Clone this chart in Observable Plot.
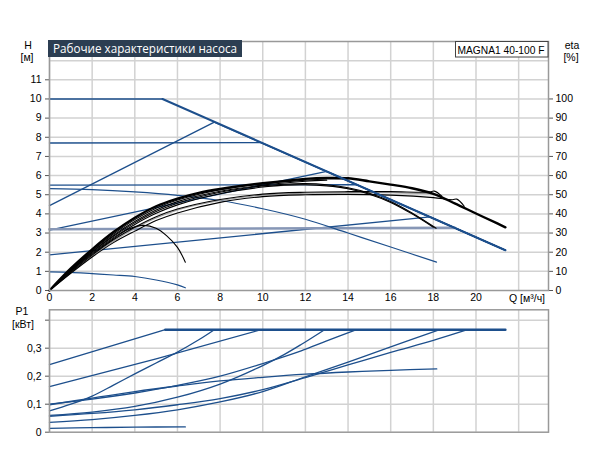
<!DOCTYPE html>
<html>
<head>
<meta charset="utf-8">
<script src="https://cdn.jsdelivr.net/npm/d3@7"></script>
<script src="https://cdn.jsdelivr.net/npm/@observablehq/plot@0.6"></script>
<style>
  html, body { margin:0; padding:0; background:#fff; }
  #wrap { position:relative; width:602px; height:473px; overflow:hidden; font-family:"Liberation Sans", Arial, sans-serif; color:#000; }
  .abs { position:absolute; white-space:nowrap; }
  .lbl { font-size:10.5px; text-align:center; }
</style>
</head>
<body>
<div id="wrap">
  <div id="topChart" class="abs" style="left:0;top:0"></div>
  <div id="botChart" class="abs" style="left:0;top:300px"></div>
  <svg class="abs" style="left:0;top:0" width="602" height="60">
    <rect x="48" y="40" width="194" height="17" fill="#2c3e52"></rect>
    <text x="53" y="53" fill="#fff" font-family="'Open Sans','Noto Sans',sans-serif" font-size="13" textLength="184" lengthAdjust="spacingAndGlyphs">Рабочие характеристики насоса</text>
    <rect x="455.5" y="41.5" width="92.5" height="15.5" fill="#fff" stroke="#444" stroke-width="1"></rect>
    <text x="457.5" y="53.5" fill="#000" font-family="'Liberation Sans',Arial,sans-serif" font-size="11.5" textLength="87" lengthAdjust="spacingAndGlyphs">MAGNA1 40-100 F</text>
  </svg>
  <div class="abs lbl" style="left:18px;top:39px;width:20px">H</div>
  <div class="abs lbl" style="left:17px;top:51px;width:20px">[м]</div>
  <div class="abs lbl" style="left:561px;top:39px;width:22px">eta</div>
  <div class="abs lbl" style="left:560px;top:51px;width:22px">[%]</div>
  <div class="abs lbl" style="left:509px;top:292px;text-align:left">Q [м³/ч]</div>
  <div class="abs lbl" style="left:12px;top:305px;width:20px">P1</div>
  <div class="abs lbl" style="left:9px;top:318px;width:28px">[кВт]</div>
</div>
<script>
// ---------- tick values ----------
const qTickLabels = [0, 2, 4, 6, 8, 10, 12, 14, 16, 18, 20];
const qGrid = [0, 2, 4, 6, 8, 10, 12, 14, 16, 18, 20, 22];
const hTicks = [0, 1, 2, 3, 4, 5, 6, 7, 8, 9, 10, 11];
const hGrid = [1, 2, 3, 4, 5, 6, 7, 8, 9, 10, 11, 12];
const etaTicks = [0, 10, 20, 30, 40, 50, 60, 70, 80, 90, 100];
const pTicks = [0, 0.1, 0.2, 0.3, 0.4];

// ---------- H curves [Q m3/h, H m] (blue) ----------
const hMaxFlat = [[0, 10], [5.3, 10]];
const hMaxSlope = [[5.3, 10], [21.38, 2.1]];
const hProp44 = [[0, 4.43], [7.73, 8.79], [21.38, 2.1]];
const hConst77 = [[0, 7.7], [9.93, 7.72], [21.38, 2.1]];
const hConst55 = [[0, 5.5], [14.4, 5.52], [21.38, 2.1]];
const hProp315 = [[0, 3.15], [13.0, 6.22], [21.38, 2.1]];
const hProp186 = [[0, 1.86], [17.85, 3.84], [21.38, 2.1]];
const hConst32 = [[0, 3.2], [19.0, 3.27]];
const hConst32Tail = [[19.0, 3.27], [21.38, 2.1]];
const hCurve53 = [[0, 5.32], [2, 5.27], [4, 5.15], [6, 4.97], [8, 4.7], [10, 4.27], [12, 3.72], [14, 3.0], [16, 2.27], [18.15, 1.48]];
const hMin = [[0, 0.97], [1, 0.95], [2, 0.88], [3, 0.81], [4, 0.73], [5, 0.55], [6, 0.29], [6.37, 0.14]];

// ---------- efficiency curves [Q m3/h, eta %] (black) ----------
const etaTop = [[0, 0], [1, 11.5], [2, 21.5], [3, 30.5], [4, 38], [5, 44], [6, 48], [7, 51], [8, 53], [10, 56], [12, 58.3], [13, 58.8], [14, 58.6], [15, 57], [16, 55.3], [17, 53.4], [18, 50.5], [19, 45.5], [20, 40.2], [21, 35], [21.38, 33]];
const etaA2 = [[0, 0], [1, 11], [2, 20.8], [3, 29.5], [4, 37], [5, 43], [6, 47.2], [8, 52.6], [10, 55.8], [12, 57.6], [13, 58.2], [14, 58.3]];
const etaA3 = [[0, 0], [1, 10.8], [2, 20.3], [3, 28.8], [4, 36], [5, 42], [6, 46.4], [8, 51.8], [10, 55], [12, 57], [13, 57.6]];
const etaB = [[0, 0], [1, 10.5], [2, 20], [3, 28.3], [4, 35.3], [5, 41.2], [6, 45.6], [8, 51.3], [10, 54.6], [11, 55.5], [12, 55.8], [13, 55.2], [14, 53.6], [15, 50.8], [16, 46.5], [17, 40.5], [18.13, 32.5]];
const etaB2 = [[0, 0], [1, 10.2], [2, 19.5], [3, 27.6], [4, 34.5], [5, 40.3], [6, 44.7], [8, 50.5], [10, 54], [11, 55], [12, 55.2], [13, 54.6], [14, 53.1], [15, 50.3], [16, 46], [17, 40], [18.0, 33]];
const etaSmall = [[0, 0], [1, 10], [2, 19], [3, 27], [3.7, 32], [4.4, 34], [5, 32.5], [5.5, 28.5], [6, 22.5], [6.37, 14.8]];
const etaD = [[0, 0], [1, 9.5], [2, 18.5], [3, 26.5], [4, 33], [5, 38.5], [6, 42.5], [8, 47.5], [10, 50.3], [12, 51.3], [14, 51.6], [16, 51.6], [17.8, 51.4], [18.05, 51.9], [18.4, 49.2]];
const etaE = [[0, 0], [1, 9], [2, 17.5], [3, 25], [4, 31], [5, 36.5], [6, 40.5], [8, 46], [10, 49], [12, 50], [14, 50.2], [16, 49.8], [18, 48.5], [18.9, 47.4], [19.1, 47.7], [19.45, 44]];
const etaGrayD = [[0, 0], [2, 18], [4, 32.5], [6, 42], [8, 47], [10, 49.8], [12, 50.8], [14, 51.1], [16, 51], [17.9, 50.6]];
const etaGrayB = [[10, 54.2], [12, 55.3], [13, 54.8], [14, 53.2], [15, 50.5], [16, 46.2], [17, 40.2], [18.1, 32.8]];

// ---------- P1 curves [Q m3/h, P1 kW] (blue) ----------
const pMaxRise = [[0, 0.241], [5.43, 0.366]];
const pMaxFlat = [[5.43, 0.366], [21.38, 0.366]];
const pProp44 = [[0, 0.076], [1, 0.1], [2, 0.129], [3, 0.168], [4, 0.208], [5, 0.247], [6, 0.286], [7, 0.33], [7.73, 0.366]];
const pConst77 = [[0, 0.163], [5, 0.262], [9.93, 0.366]];
const pConst55 = [[0, 0.1], [2, 0.118], [4, 0.14], [6, 0.167], [8, 0.2], [10, 0.245], [11.8, 0.29], [13, 0.326], [14.4, 0.366]];
const pProp315 = [[0, 0.06], [2, 0.072], [4, 0.092], [6, 0.125], [8, 0.172], [10, 0.238], [11, 0.277], [11.8, 0.313], [12.9, 0.366]];
const pCurve53 = [[0, 0.098], [2, 0.122], [4, 0.145], [6, 0.165], [8, 0.183], [10, 0.196], [12, 0.207], [14, 0.215], [16, 0.221], [18.16, 0.226]];
const pProp186 = [[0, 0.035], [2, 0.045], [4, 0.06], [6, 0.08], [8, 0.108], [10, 0.145], [12, 0.198], [14, 0.25], [16, 0.305], [18.3, 0.366]];
const pConst32 = [[0, 0.057], [2, 0.067], [4, 0.08], [6, 0.098], [8, 0.12], [10, 0.152], [12, 0.195], [14, 0.24], [16, 0.285], [18, 0.328], [19.6, 0.366]];
const pMin = [[0, 0.014], [2, 0.016], [4, 0.018], [6.37, 0.019]];

// ---------- styling ----------
const BLUE = "#1d4f8c";
const GRAYBLUE = "#8797b6";
const GRID = "#d2d2d2";
const FRAME = "#999";
const fx = d => d[0], fy = d => d[1], fe = d => d[1] / 10;
const font = {fontFamily: "'Liberation Sans', Arial, sans-serif", fontSize: "10.5px", background: "transparent", color: "#000", overflow: "visible"};

const blueLine = (data, w = 1.3) => Plot.line(data, {x: fx, y: fy, stroke: BLUE, strokeWidth: w});
const blueCurve = (data, w = 1.3) => Plot.line(data, {x: fx, y: fy, stroke: BLUE, strokeWidth: w, curve: "catmull-rom"});
const etaLine = (data, w = 1.1, c = "#000") => Plot.line(data, {x: fx, y: fe, stroke: c, strokeWidth: w, curve: "catmull-rom"});

const topPlot = Plot.plot({
  width: 602, height: 305,
  marginTop: 41, marginBottom: 15, marginLeft: 49, marginRight: 54,
  x: {domain: [0, 23.4]},
  y: {domain: [0, 13]},
  style: font,
  marks: [
    Plot.gridX(qGrid, {stroke: GRID, strokeOpacity: 1, strokeWidth: 1.5}),
    Plot.gridY(hGrid, {stroke: GRID, strokeOpacity: 1, strokeWidth: 1.5}),
    Plot.axisY(hTicks, {anchor: "left", tickSize: 4, tickPadding: 4, label: null, stroke: "#555"}),
    Plot.axisY(hTicks.slice(0, 11), {anchor: "right", tickSize: 4, tickPadding: 3, label: null, stroke: "#555", tickFormat: d => String(etaTicks[d])}),
    Plot.axisX(qTickLabels, {anchor: "bottom", tickSize: 0, tickPadding: 3, label: null}),
    blueLine(hProp44), blueLine(hConst77), blueLine(hConst55), blueLine(hProp315), blueLine(hProp186),
    Plot.line(hConst32, {x: fx, y: fy, stroke: GRAYBLUE, strokeWidth: 2.6}),
    blueLine(hConst32Tail),
    blueCurve(hCurve53, 1.2), blueCurve(hMin, 1.2),
    etaLine(etaGrayD, 1.1, "#9a9a9a"), etaLine(etaGrayB, 1.1, "#9a9a9a"),
    etaLine(etaE), etaLine(etaD), etaLine(etaB2), etaLine(etaB), etaLine(etaA3), etaLine(etaA2), etaLine(etaSmall),
    etaLine(etaTop, 2.4),
    blueLine(hMaxFlat, 1.5),
    blueLine(hMaxSlope, 2.0),
    Plot.frame({stroke: FRAME, strokeWidth: 1.5})
  ]
});
document.getElementById("topChart").appendChild(topPlot);

const botPlot = Plot.plot({
  width: 602, height: 135,
  marginTop: 9.3, marginBottom: 3.3, marginLeft: 49, marginRight: 54,
  x: {domain: [0, 23.4], axis: null},
  y: {domain: [0, 0.437]},
  style: font,
  marks: [
    Plot.gridX(qGrid, {stroke: GRID, strokeOpacity: 1, strokeWidth: 1.5}),
    Plot.gridY(pTicks.slice(1), {stroke: GRID, strokeOpacity: 1, strokeWidth: 1.5}),
    Plot.axisY(pTicks, {anchor: "left", tickSize: 4, tickPadding: 4, label: null, stroke: "#555",
      tickFormat: d => d === 0 ? "0" : d > 0.35 ? "" : d.toFixed(1).replace(".", ",")}),
    blueCurve(pProp44), blueLine(pConst77), blueCurve(pConst55), blueCurve(pProp315),
    blueCurve(pCurve53), blueCurve(pProp186), blueCurve(pConst32), blueCurve(pMin),
    blueLine(pMaxRise, 1.3),
    blueLine(pMaxFlat, 2.4),
    Plot.frame({stroke: FRAME, strokeWidth: 1.5})
  ]
});
document.getElementById("botChart").appendChild(botPlot);
</script>
</body>
</html>
